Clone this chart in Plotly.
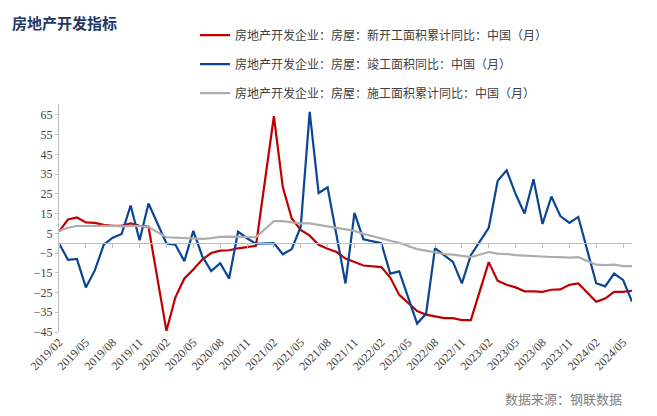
import plotly.graph_objects as go

# ---- categories ----
years = [2019, 2020, 2021, 2022, 2023, 2024]
months = []
for y in years:
    for m in range(1, 13):
        if (y == 2019 and m < 2) or (y == 2024 and m > 6):
            continue
        months.append(f"{y}/{m:02d}")
tick_labels = months[::3]

# ---- series (January values absent -> None) ----
new_start = [5.8, 12.0, 13.0, 10.5, 10.3, 9.3, 8.8, 8.8, 10.0, 8.8, 8.3,
             None, -44.4, -27.4, -17.9, -13.3, -8.3, -5.0, -3.8, -3.6, -2.6, -2.0, -1.3,
             None, 64.3, 28.3, 12.5, 6.7, 3.8, -0.8, -2.8, -4.5, -7.8, -9.5, -11.3,
             None, -12.1, -17.4, -26.2, -30.2, -34.4, -36.2, -37.0, -38.0, -38.0, -39.0, -39.0,
             None, -9.6, -19.1, -21.1, -22.4, -24.4, -24.4, -24.7, -23.6, -23.4, -21.1, -20.4,
             None, -29.7, -28.1, -24.7, -24.7, -24.1]
completed = [0.0, -8.4, -8.0, -22.4, -13.8, -0.8, 2.8, 4.7, 19.1, 1.5, 20.1,
             None, -0.2, -0.8, -9.1, 6.2, -6.6, -14.1, -10.1, -17.9, 5.8, 2.5, -0.3,
             None, 0.0, -5.6, -3.0, 8.3, 66.5, 25.4, 28.3, 4.0, -20.4, 15.3, 2.0,
             None, 0.0, -15.4, -14.3, -27.7, -40.7, -35.7, -2.5, -6.1, -9.5, -20.4, -6.1,
             None, 7.8, 31.6, 36.9, 24.9, 15.0, 32.4, 9.7, 23.6, 13.7, 10.3, 13.3,
             None, -20.3, -21.9, -15.4, -18.6, -29.6]
construction = [6.2, 7.8, 8.7, 8.8, 8.8, 8.8, 8.8, 8.5, 8.8, 8.7, 8.2,
                None, 3.0, 2.8, 2.6, 2.6, 2.2, 2.6, 3.2, 3.3, 3.2, 2.9, 3.0,
                None, 11.2, 11.2, 10.5, 10.0, 10.0, 9.2, 8.3, 7.8, 7.0, 6.2, 4.7,
                None, 2.2, 1.2, 0.2, -1.3, -3.0, -3.8, -4.5, -5.5, -5.8, -6.6, -7.1,
                None, -4.5, -5.3, -5.5, -6.1, -6.3, -6.6, -7.0, -7.0, -7.1, -7.3, -7.1,
                None, -10.9, -11.1, -10.9, -11.6, -11.6]

names = ["房地产开发企业：房屋：新开工面积累计同比：中国（月）",
         "房地产开发企业：房屋：竣工面积同比：中国（月）",
         "房地产开发企业：房屋：施工面积累计同比：中国（月）"]
colors = ["#C00000", "#0B4592", "#ADADAD"]
y_ticks = list(range(-45, 66, 10))
y_range = [-45, 70.5]

fig = go.Figure()
for i, (vals, nm, col) in enumerate(zip([new_start, completed, construction], names, colors)):
    fig.add_trace(go.Scatter(x=months, y=vals, mode="lines", name=nm,
                             line=dict(color=col, width=2.2), connectgaps=True,
                             legendgroup=f"g{i}"))
# helper trace so the zero-line axis has its categories
fig.add_trace(go.Scatter(x=months, y=[None] * len(months), xaxis="x2", yaxis="y",
                         showlegend=False, hoverinfo="skip", mode="lines"))

zero_frac = (0 - y_range[0]) / (y_range[1] - y_range[0])
tick_font = dict(family="Liberation Serif, Times New Roman, serif", size=12, color="#404040")

# page shows the figure offset by 8px; plot area on screen: x 59..632, y 101..332
fig.update_layout(
    width=657, height=416,
    margin=dict(l=51, r=33, t=93, b=92),
    paper_bgcolor="white", plot_bgcolor="white",
    showlegend=True,
    legend=dict(x=(195 - 59) / 573, y=1 + (101 - 16.5) / 231, xanchor="left", yanchor="top",
                traceorder="grouped", tracegroupgap=10,
                font=dict(family="Noto Sans CJK SC", size=12, color="#404040"),
                bgcolor="rgba(0,0,0,0)"),
    xaxis=dict(type="category", categoryorder="array", categoryarray=months,
               range=[0, len(months) - 1], tickmode="array", tickvals=tick_labels,
               ticktext=tick_labels, tickangle=-45, showline=False, ticks="",
               showgrid=False, zeroline=False, tickfont=tick_font),
    xaxis2=dict(type="category", categoryorder="array", categoryarray=months,
                overlaying="x", anchor="free", position=zero_frac,
                range=[0, len(months) - 1], tickmode="array", tickvals=tick_labels,
                showticklabels=False, ticks="outside", ticklen=4, tickcolor="#BFBFBF",
                showline=True, linecolor="#BFBFBF", linewidth=1.2, showgrid=False, zeroline=False),
    yaxis=dict(range=y_range, tickmode="array", tickvals=y_ticks, showgrid=False,
               zeroline=False, showline=True, linecolor="#BFBFBF", linewidth=1,
               ticks="outside", ticklen=3, tickcolor="#BFBFBF", tickfont=tick_font),
    annotations=[
        dict(text="<b>房地产开发指标</b>", xref="paper", yref="paper",
             x=-49 / 573, y=1 + (101 - 18) / 231, xanchor="left", yanchor="middle",
             showarrow=False, font=dict(family="Noto Sans CJK SC", size=15, color="#1F3864")),
        dict(text="数据来源：钢联数据", xref="paper", yref="paper",
             x=(624 - 59) / 573, y=-(399 - 332) / 231, xanchor="right", yanchor="middle",
             showarrow=False, font=dict(family="Noto Sans CJK SC", size=13, color="#7F7F7F")),
    ],
)

fig.write_html("out.html")
